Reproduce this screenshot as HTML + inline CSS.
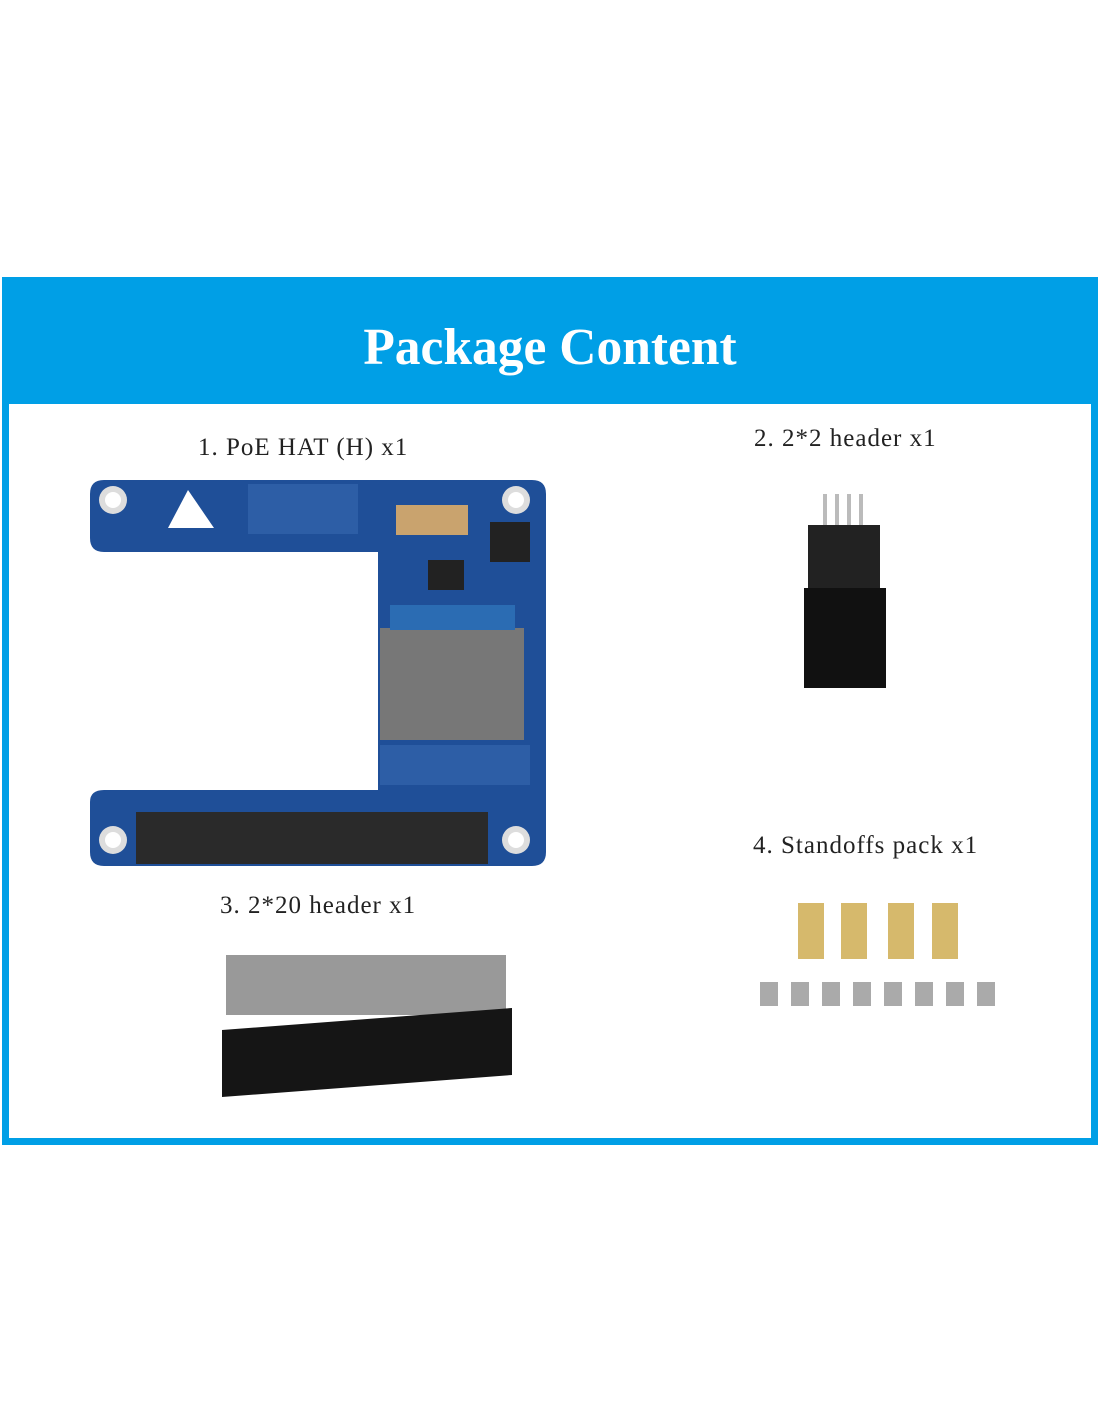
<!DOCTYPE html>
<html><head><meta charset="utf-8"><style>
body{margin:0;width:1100px;height:1422px;background:#fff;position:relative;overflow:hidden;font-family:"Liberation Serif",serif}
.frame{position:absolute;left:2px;top:277px;width:1096px;height:868px;background:#009fe6}
.inner{position:absolute;left:9px;top:404px;width:1082px;height:734px;background:#fff}
.title{position:absolute;left:0;top:318px;width:1100px;text-align:center;color:#fff;font-weight:bold;font-size:51.5px}
.lbl{position:absolute;font-size:25px;letter-spacing:1px;color:#222;white-space:nowrap}
svg{position:absolute;left:0;top:0}
</style></head><body>
<div class="frame"></div><div class="inner"></div>
<div class="title">Package Content</div>
<div class="lbl" style="left:198px;top:434px">1. PoE HAT (H) x1</div>
<div class="lbl" style="left:754px;top:425px">2. 2*2 header x1</div>
<div class="lbl" style="left:220px;top:892px">3. 2*20 header x1</div>
<div class="lbl" style="left:753px;top:832px">4. Standoffs pack x1</div>
<svg width="1100" height="1422">
<path d="M104 480 H532 Q546 480 546 494 V852 Q546 866 532 866 H104 Q90 866 90 852 V802 Q90 790 104 790 H378 V552 H104 Q90 552 90 538 V494 Q90 480 104 480 Z" fill="#1f4f98"/>
<circle cx="113" cy="500" r="14" fill="#ddd"/><circle cx="113" cy="500" r="8" fill="#fff"/>
<circle cx="516" cy="500" r="14" fill="#ddd"/><circle cx="516" cy="500" r="8" fill="#fff"/>
<circle cx="113" cy="840" r="14" fill="#ddd"/><circle cx="113" cy="840" r="8" fill="#fff"/>
<circle cx="516" cy="840" r="14" fill="#ddd"/><circle cx="516" cy="840" r="8" fill="#fff"/>
<path d="M168 528 L188 490 L214 528 Z" fill="#fff"/>
<rect x="380" y="628" width="144" height="112" fill="#777"/>
<rect x="390" y="605" width="125" height="25" fill="#2b6cb3"/>
<rect x="396" y="505" width="72" height="30" fill="#c9a36e"/>
<rect x="490" y="522" width="40" height="40" fill="#222"/>
<rect x="428" y="560" width="36" height="30" fill="#222"/>
<rect x="136" y="812" width="352" height="52" fill="#2a2a2a"/>
<rect x="248" y="484" width="110" height="50" fill="#2d5ea6"/>
<rect x="380" y="745" width="150" height="40" fill="#2d5ea6"/>
<rect x="823" y="494" width="4" height="50" fill="#bbb"/><rect x="835" y="494" width="4" height="50" fill="#bbb"/><rect x="847" y="494" width="4" height="50" fill="#bbb"/><rect x="859" y="494" width="4" height="50" fill="#bbb"/>
<rect x="808" y="525" width="72" height="65" fill="#222"/>
<rect x="804" y="588" width="82" height="100" fill="#111"/>
<rect x="226" y="955" width="280" height="60" fill="#999"/>
<path d="M222 1030 L512 1008 V1075 L222 1097 Z" fill="#151515"/>
<rect x="798" y="903" width="26" height="56" fill="#d6b96c"/>
<rect x="841" y="903" width="26" height="56" fill="#d6b96c"/>
<rect x="888" y="903" width="26" height="56" fill="#d6b96c"/>
<rect x="932" y="903" width="26" height="56" fill="#d6b96c"/>
<g fill="#aaa">
<rect x="760" y="982" width="18" height="24"/><rect x="791" y="982" width="18" height="24"/><rect x="822" y="982" width="18" height="24"/><rect x="853" y="982" width="18" height="24"/>
<rect x="884" y="982" width="18" height="24"/><rect x="915" y="982" width="18" height="24"/><rect x="946" y="982" width="18" height="24"/><rect x="977" y="982" width="18" height="24"/>
</g>
</svg>
</body></html>
